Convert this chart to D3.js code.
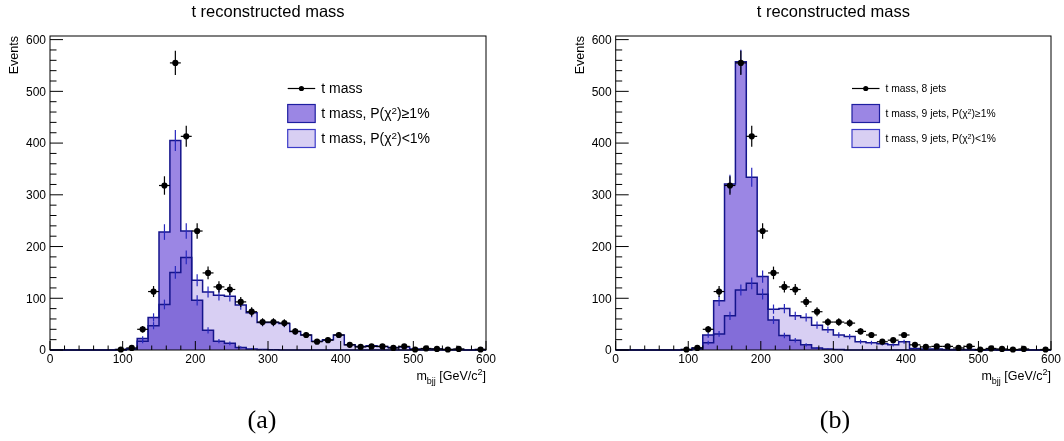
<!DOCTYPE html>
<html>
<head>
<meta charset="utf-8">
<script src="https://cdn.jsdelivr.net/npm/d3@7"></script>
<style>
  html, body { margin: 0; padding: 0; background: #fff; }
  svg { display: block; background: #fff; font-family: "Liberation Sans", Arial, sans-serif; }
</style>
</head>
<body>
<svg id="chart" width="1064" height="441"></svg>
<script>
// ---------------- data ----------------
// 40 bins of 15 GeV/c^2 from 0 to 600
const binEdges = d3.range(0, 601, 15);
const xTicks = [0, 100, 200, 300, 400, 500, 600];
const yTicks = [0, 100, 200, 300, 400, 500, 600];

// black points: t mass (same sample in both panels, "8 jets" in (b))
const tMass = [0,0,0,0,0,0,1,4,40,113,318,555,413,230,149,122,117,93,74,54,54,52,36,29,16,19,29,10,6,7,7,4,7,1,3,2,1,2,0,1];

// panel (a)
const aGood = [0,0,0,0,0,0,0,2,22,63,228,405,230,96,38,17,13,5,2,1,0.5,0,0,0,0,0,0,0,0,0,0,0,0,0,0,0,0,0,0,0];
const aBad  = [0,0,0,0,0,0,1,2,17,47,88,150,179,135,112,106,104,87,72,53,53,51,36,29,17,20,29,10,7,8,7,5,6,2,2,2,1,1,0,1];

// panel (b)
const bGood = [0,0,0,0,0,0,1,4,29,95,321,557,334,142,58,28,19,10,4,2,1,0,0,0,0,0,0,0,0,0,0,0,0,0,0,0,0,0,0,0];
const bBad  = [0,0,0,0,0,0,0,2,14,31,66,116,129,108,79,80,66,63,48,39,29,26,16,14,12,10,16,3,2,2,1,1,1,0,1,0,0,0,0,0];

const titleText = "t reconstructed mass";
const legendA = ["t mass", "t mass, P(χ|2|)≥1%", "t mass, P(χ|2|)<1%"];
const legendB = ["t mass, 8 jets", "t mass, 9 jets,  P(χ|2|)≥1%", "t mass, 9 jets, P(χ|2|)<1%"];
const panelLabels = ["(a)", "(b)"];

// ---------------- styles ----------------
const colGood = "rgb(155,134,228)";
const colBad = "rgb(216,207,243)";
const colLine = "rgb(20,20,140)";
const colErr = "rgb(40,40,190)";

const svg = d3.select("#chart");

const panels = [
  { x0: 50, x1: 486, good: aGood, bad: aBad, legend: legendA, legX: 287.7, legFont: 14, label: panelLabels[0], labelX: 262 },
  { x0: 615.7, x1: 1051, good: bGood, bad: bBad, legend: legendB, legX: 852, legFont: 10.3, label: panelLabels[1], labelX: 835 }
];

function addRich(sel, str, supSize) {
  // "|x|" segments are superscripts
  const parts = str.split("|");
  parts.forEach((p, i) => {
    if (i % 2 === 1) {
      sel.append("tspan").attr("dy", "-0.45em").attr("font-size", supSize).text(p);
    } else if (p.length) {
      const t = sel.append("tspan").text(p);
      if (i > 0) t.attr("dy", (0.45 * supSize) + "px");
    }
  });
}

panels.forEach(P => {
  const yTop = 36, yBot = 350;
  const x = d3.scaleLinear().domain([0, 600]).range([P.x0, P.x1]);
  const y = d3.scaleLinear().domain([0, 607]).range([yBot, yTop]);
  const g = svg.append("g");

  const stepData = vals => {
    const d = vals.map((v, i) => ({ e: binEdges[i], v }));
    d.push({ e: binEdges[binEdges.length - 1], v: vals[vals.length - 1] });
    return d;
  };
  const area = d3.area().curve(d3.curveStepAfter).x(d => x(d.e)).y0(y(0)).y1(d => y(d.v));
  const line = d3.line().curve(d3.curveStepAfter).x(d => x(d.e)).y(d => y(d.v));

  // fills
  g.append("path").attr("d", area(stepData(P.bad))).attr("fill", colBad);
  g.append("path").attr("d", area(stepData(P.good))).attr("fill", colGood).style("mix-blend-mode", "multiply");

  // outlines
  [P.good, P.bad].forEach(vals => {
    g.append("path").attr("d", line(stepData(vals))).attr("fill", "none")
      .attr("stroke", colLine).attr("stroke-width", 1.5);
    vals.forEach((v, i) => {
      if (v <= 0) return;
      const c = (binEdges[i] + binEdges[i + 1]) / 2;
      const e = Math.sqrt(v);
      g.append("line").attr("x1", x(c)).attr("x2", x(c))
        .attr("y1", y(Math.max(0, v - e))).attr("y2", y(v + e))
        .attr("stroke", colErr).attr("stroke-width", 1.2);
    });
  });

  // axes frame
  g.append("rect").attr("x", P.x0).attr("y", yTop).attr("width", P.x1 - P.x0).attr("height", yBot - yTop)
    .attr("fill", "none").attr("stroke", "#000").attr("stroke-width", 1);

  // x ticks (inward)
  const xMinor = d3.range(0, 601, 20);
  xMinor.forEach(t => {
    const major = t % 100 === 0;
    g.append("line").attr("x1", x(t)).attr("x2", x(t)).attr("y1", yBot).attr("y2", yBot - (major ? 9 : 4.5))
      .attr("stroke", "#000").attr("stroke-width", 1);
  });
  xTicks.forEach(t => {
    g.append("text").attr("x", x(t)).attr("y", 363).attr("text-anchor", "middle")
      .attr("font-size", 12).attr("fill", "#000").text(t);
  });
  // y ticks
  const yMinor = d3.range(0, 601, 20);
  yMinor.forEach(t => {
    const major = t % 100 === 0;
    g.append("line").attr("x1", P.x0).attr("x2", P.x0 + (major ? 13 : 6.5)).attr("y1", y(t)).attr("y2", y(t))
      .attr("stroke", "#000").attr("stroke-width", 1);
  });
  yTicks.forEach(t => {
    g.append("text").attr("x", P.x0 - 4).attr("y", y(t)).attr("dy", "0.36em").attr("text-anchor", "end")
      .attr("font-size", 12).attr("fill", "#000").text(t);
  });

  // axis titles
  g.append("text").attr("transform", `translate(${P.x0 - 32},${yTop}) rotate(-90)`)
    .attr("text-anchor", "end").attr("font-size", 12.5).text("Events");
  const xl = g.append("text").attr("x", P.x1).attr("y", 380).attr("text-anchor", "end").attr("font-size", 12.5);
  xl.append("tspan").text("m");
  xl.append("tspan").attr("dy", "4px").attr("font-size", 9).text("bjj");
  xl.append("tspan").attr("dy", "-4px").text(" [GeV/c");
  xl.append("tspan").attr("dy", "-5px").attr("font-size", 9).text("2");
  xl.append("tspan").attr("dy", "5px").text("]");

  // title
  g.append("text").attr("x", (P.x0 + P.x1) / 2).attr("y", 17).attr("text-anchor", "middle")
    .attr("font-size", 16.5).text(titleText);

  // data points
  tMass.forEach((v, i) => {
    if (v <= 0) return;
    const c = (binEdges[i] + binEdges[i + 1]) / 2;
    const e = Math.sqrt(v);
    g.append("line").attr("x1", x(binEdges[i])).attr("x2", x(binEdges[i + 1])).attr("y1", y(v)).attr("y2", y(v))
      .attr("stroke", "#000").attr("stroke-width", 1.2);
    g.append("line").attr("x1", x(c)).attr("x2", x(c)).attr("y1", y(Math.max(0, v - e))).attr("y2", y(v + e))
      .attr("stroke", "#000").attr("stroke-width", 1.2);
    g.append("circle").attr("cx", x(c)).attr("cy", y(v)).attr("r", 3.1).attr("fill", "#000");
  });

  // legend
  const lx = P.legX, bw = 27.5;
  g.append("line").attr("x1", lx).attr("x2", lx + bw).attr("y1", 88.5).attr("y2", 88.5).attr("stroke", "#000").attr("stroke-width", 1.2);
  g.append("circle").attr("cx", lx + bw / 2).attr("cy", 88.5).attr("r", 2.6).attr("fill", "#000");
  const t0 = g.append("text").attr("x", lx + bw + 6).attr("y", 88.5).attr("dy", "0.35em").attr("font-size", P.legFont);
  addRich(t0, P.legend[0], P.legFont * 0.7);
  [[colGood, "rgb(30,30,160)", 104.5], [colBad, "rgb(60,60,200)", 129.5]].forEach((b, k) => {
    g.append("rect").attr("x", lx).attr("y", b[2]).attr("width", bw).attr("height", 18)
      .attr("fill", b[0]).attr("stroke", b[1]).attr("stroke-width", 1.2);
    const t = g.append("text").attr("x", lx + bw + 6).attr("y", b[2] + 9).attr("dy", "0.35em").attr("font-size", P.legFont);
    addRich(t, P.legend[k + 1], P.legFont * 0.7);
  });

  // panel label
  svg.append("text").attr("x", P.labelX).attr("y", 428).attr("text-anchor", "middle")
    .attr("font-family", "'Liberation Serif', 'DejaVu Serif', serif").attr("font-size", 26).text(P.label);
});
</script>
</body>
</html>
